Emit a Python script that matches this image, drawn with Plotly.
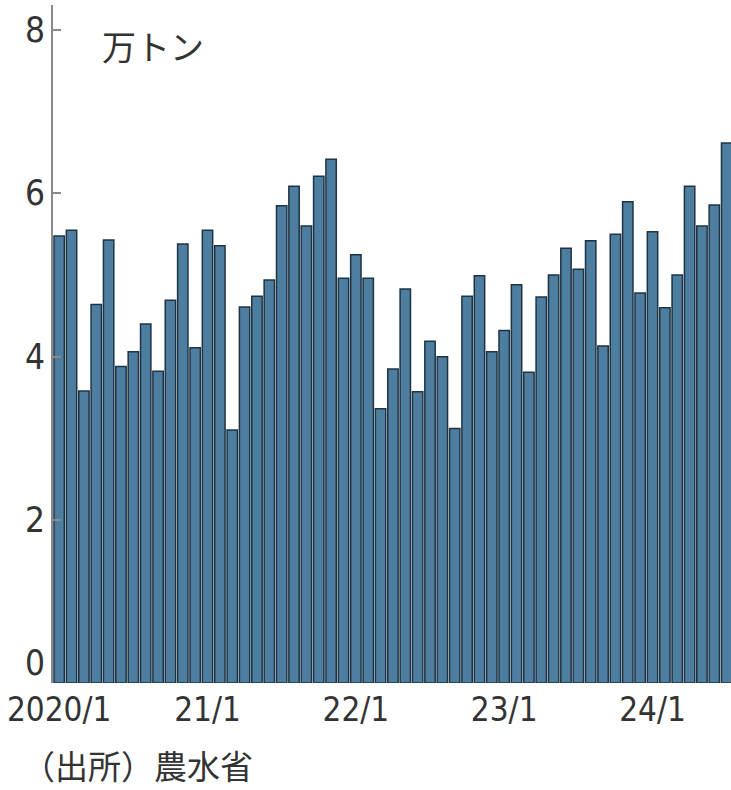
import plotly.graph_objects as go

# Monthly values (万トン), 2020/1 .. 2024/7
months = [f"{y}/{m}" for y in range(2020, 2025) for m in range(1, 13)][:55]
values = [
    5.48, 5.55, 3.58, 4.64, 5.43, 3.88, 4.06, 4.40, 3.82, 4.69, 5.38, 4.11,  # 2020
    5.55, 5.36, 3.10, 4.61, 4.74, 4.94, 5.85, 6.09, 5.60, 6.21, 6.42, 4.96,  # 2021
    5.25, 4.96, 3.36, 3.85, 4.83, 3.57, 4.19, 4.00, 3.12, 4.74, 4.99, 4.06,  # 2022
    4.32, 4.88, 3.81, 4.73, 5.00, 5.33, 5.07, 5.42, 4.13, 5.50, 5.90, 4.78,  # 2023
    5.53, 4.60, 5.00, 6.09, 5.60, 5.86, 6.62,                                # 2024
]
tick_months = ["2020/1", "2021/1", "2022/1", "2023/1", "2024/1"]
tick_labels = ["2020/1", "21/1", "22/1", "23/1", "24/1"]
y_ticks = [0, 2, 4, 6, 8]

NUM_FONT = "Liberation Sans Narrow, DejaVu Sans Condensed, Noto Sans, sans-serif"
JP_FONT = "Noto Sans CJK JP, sans-serif"
TXT = "#333333"

fig = go.Figure(
    go.Bar(
        x=months,
        y=values,
        marker=dict(color="#4d7d9f", line=dict(color="#1e3445", width=1.5)),
    )
)

annotations = []
for v in y_ticks:
    annotations.append(dict(
        text=str(v), xref="paper", yref="y", x=0, y=v,
        xanchor="right", yanchor="bottom" if v == 0 else "middle",
        xshift=-6, yshift=-2 if v == 0 else 0,
        showarrow=False,
        font=dict(family=NUM_FONT, size=35, color=TXT),
    ))

annotations += [
    dict(
        text="万トン",
        xref="paper", yref="paper",
        x=(100 - 53) / 678, y=(790 - 107 - 45) / 678,
        xanchor="left", yanchor="middle",
        showarrow=False,
        font=dict(family=JP_FONT, size=34, color=TXT),
    ),
    dict(
        text="（出所）農水省",
        xref="paper", yref="paper",
        x=(21 - 53) / 678, y=(790 - 107 - 765) / 678,
        xanchor="left", yanchor="middle",
        showarrow=False, borderpad=0,
        font=dict(family=JP_FONT, size=33, color=TXT),
    ),
]

fig.update_layout(
    width=731,
    height=790,
    margin=dict(l=53, r=0, t=5, b=107),
    paper_bgcolor="white",
    plot_bgcolor="white",
    bargap=0.16,
    showlegend=False,
    xaxis=dict(
        type="category",
        range=[-0.5, 54.35],
        tickmode="array",
        tickvals=tick_months,
        ticktext=tick_labels,
        showgrid=False,
        showline=False,
        ticks="",
        ticklabelstandoff=4,
        tickfont=dict(family=NUM_FONT, size=33, color=TXT),
        zeroline=False,
    ),
    yaxis=dict(
        range=[0, 8.31],
        tickmode="array",
        tickvals=y_ticks,
        showticklabels=False,
        showgrid=False,
        zeroline=False,
        showline=True,
        linecolor="#8a8a8a",
        linewidth=2,
        ticks="inside",
        ticklen=8,
        tickwidth=1.5,
        tickcolor="#8a8a8a",
    ),
    annotations=annotations,
)

fig.write_html("out.html")
